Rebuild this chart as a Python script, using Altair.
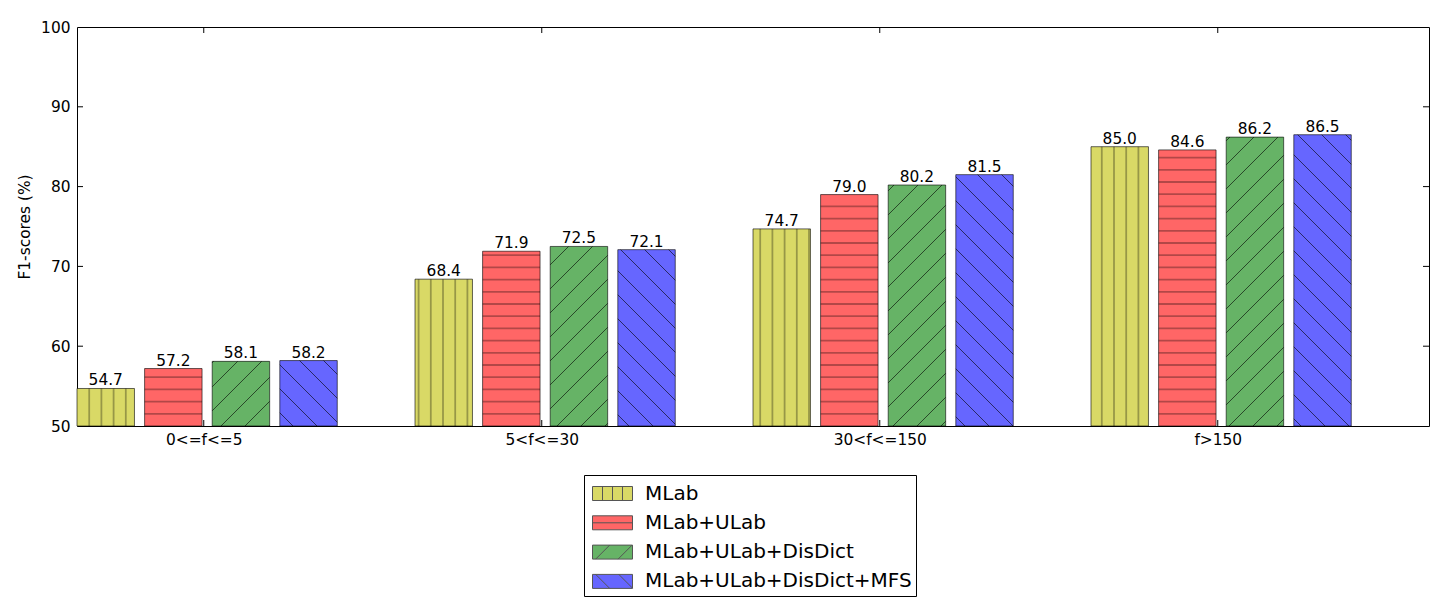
import altair as alt
import pandas as pd

# ---------------- data ----------------
categories = ["0<=f<=5", "5<f<=30", "30<f<=150", "f>150"]
series = ["MLab", "MLab+ULab", "MLab+ULab+DisDict", "MLab+ULab+DisDict+MFS"]
mlab = [54.7, 68.4, 74.7, 85.0]
mlab_ulab = [57.2, 71.9, 79.0, 84.6]
mlab_ulab_disdict = [58.1, 72.5, 80.2, 86.2]
mlab_ulab_disdict_mfs = [58.2, 72.1, 81.5, 86.5]
y_ticks = [50, 60, 70, 80, 90, 100]

# ---------------- style / layout ----------------
colors = ["#D9D966", "#FF6666", "#66B366", "#6666FF"]
W, H = 1352, 399
Y0, Y1 = 50, 100
X0, X1 = 0, 4
BAR_STEP, BAR_W = 0.2, 0.17
TICK_POS = 0.375
PX_X = W / (X1 - X0)
PX_Y = H / (Y1 - Y0)
FONT = "DejaVu Sans"
FS = 15.4
HATCH = 12.2   # px spacing of | and - hatches
DIAG = 24.0    # px spacing of / and \ hatches

values = [mlab, mlab_ulab, mlab_ulab_disdict, mlab_ulab_disdict_mfs]

rows = []
for g, cat in enumerate(categories):
    for s, name in enumerate(series):
        left = g + s * BAR_STEP
        rows.append(dict(category=cat, series=name, x=left, x2=left + BAR_W,
                         xm=left + BAR_W / 2, base=Y0, value=values[s][g], kind=s))
bars = pd.DataFrame(rows)

# hatch segments derived from the bars
segs = []
for r in rows:
    w = BAR_W * PX_X
    h = (r["value"] - Y0) * PX_Y
    lpx = r["x"] * PX_X
    lines = []
    if r["kind"] == 0:
        u = HATCH - (lpx % HATCH)
        while u < w - 1:
            lines.append((u, 0, u, h))
            u += HATCH
    elif r["kind"] == 1:
        v = HATCH
        while v < h - 1:
            lines.append((0, v, w, v))
            v += HATCH
    elif r["kind"] == 2:
        ph = lpx % DIAG
        for k in range(-10, 60):
            c = ph + k * DIAG
            u0, u1 = max(0, -c), min(w, h - c)
            if u1 - u0 > 0.5:
                lines.append((u0, u0 + c, u1, u1 + c))
    else:
        ph = (-lpx) % DIAG
        for k in range(-10, 60):
            c = ph + k * DIAG
            u0, u1 = max(0, c - h), min(w, c)
            if u1 - u0 > 0.5:
                lines.append((u0, c - u0, u1, c - u1))
    for (a, b, c2, d) in lines:
        segs.append(dict(series=r["series"], kind=r["kind"],
                         x=r["x"] + a / PX_X, y=Y0 + b / PX_Y,
                         x2=r["x"] + c2 / PX_X, y2=Y0 + d / PX_Y))
hatch = pd.DataFrame(segs)

xticks = pd.DataFrame({"t": [g + TICK_POS for g in range(len(categories))]})
yticks = pd.DataFrame({"t": y_ticks[1:-1]})
legend_df = pd.DataFrame({"series": series})

# legend symbols: 40x14 patch with hatch (unit = 14px, symbol side 28px)
rect = "M-1.4286,-0.5H1.4286V0.5H-1.4286Z"
shapes = [
    rect + " M-0.714,-0.5V0.5 M0,-0.5V0.5 M0.714,-0.5V0.5",
    rect + " M-1.4286,0L1.4286,0",
    rect + " M-1.2,0.5L-0.2,-0.5 M0.4,0.5L1.4,-0.5",
    rect + " M-1.2,-0.5L-0.2,0.5 M0.45,-0.5L1.4286,0.48",
]

xscale = alt.Scale(domain=[X0, X1], nice=False, zero=False)
yscale = alt.Scale(domain=[Y0, Y1], nice=False, zero=False)
fscale = alt.Scale(domain=series, range=colors)

label_expr = "[" + ",".join("'%s'" % c for c in categories) + "][floor(datum.value)]"

x_axis = alt.Axis(values=[g + TICK_POS for g in range(len(categories))], labelExpr=label_expr,
                  ticks=False, domain=False, grid=False, title=None, labelFont=FONT,
                  labelFontSize=FS, labelColor="black", labelPadding=6, labelFlush=False)
y_axis = alt.Axis(values=y_ticks, ticks=False, domain=False, grid=False, title="F1-scores (%)",
                  labelFont=FONT, labelFontSize=FS, labelColor="black", labelPadding=7,
                  titleFont=FONT, titleFontSize=FS, titleFontWeight="normal", titleColor="black",
                  titlePadding=8)

legend = alt.Legend(orient="none", legendX=507, legendY=448, title=None, direction="vertical",
                    padding=4, strokeColor="black", fillColor="white", symbolSize=784,
                    symbolOffset=10, labelOffset=18, labelFont=FONT, labelFontSize=20,
                    labelColor="black", rowPadding=4.3, symbolStrokeColor="#555",
                    symbolStrokeWidth=1, labelLimit=600, cornerRadius=0)

bar_layer = alt.Chart(bars).mark_rect(stroke="#000", strokeOpacity=0.6, strokeWidth=1).encode(
    x=alt.X("x:Q", scale=xscale, axis=x_axis),
    x2="x2:Q",
    y=alt.Y("value:Q", scale=yscale, axis=y_axis),
    y2="base:Q",
    fill=alt.Fill("series:N", scale=fscale, legend=legend),
)

hatch_straight = alt.Chart(hatch).transform_filter("datum.kind < 2").mark_rule(
    stroke="#000", strokeOpacity=0.3, strokeWidth=1.8).encode(
    x="x:Q", x2="x2:Q", y="y:Q", y2="y2:Q")
hatch_diag = alt.Chart(hatch).transform_filter("datum.kind >= 2").mark_rule(
    stroke="#000", strokeOpacity=0.6, strokeWidth=1).encode(
    x="x:Q", x2="x2:Q", y="y:Q", y2="y2:Q")

text_layer = alt.Chart(bars).mark_text(baseline="alphabetic", dy=-3, font=FONT, fontSize=FS,
                                       color="black").encode(
    x="xm:Q", y="value:Q", text=alt.Text("value:Q", format=".1f")
)

ytick_l = alt.Chart(yticks).mark_rule(color="black", strokeWidth=1).encode(
    y="t:Q", x=alt.value(0), x2=alt.value(6))
ytick_r = alt.Chart(yticks).mark_rule(color="black", strokeWidth=1).encode(
    y="t:Q", x=alt.value(W - 6), x2=alt.value(W))
xtick_b = alt.Chart(xticks).mark_rule(color="black", strokeWidth=1).encode(
    x="t:Q", y=alt.value(H - 6), y2=alt.value(H))
xtick_t = alt.Chart(xticks).mark_rule(color="black", strokeWidth=1).encode(
    x="t:Q", y=alt.value(0), y2=alt.value(6))

legend_layer = alt.Chart(legend_df).mark_point(filled=True, opacity=1, stroke="#555",
                                               strokeWidth=1, size=784, clip=True).encode(
    x=alt.value(-2000), y=alt.value(-2000),
    fill=alt.Fill("series:N", scale=fscale, legend=legend),
    shape=alt.Shape("series:N", scale=alt.Scale(domain=series, range=shapes), legend=legend),
)

chart = alt.layer(bar_layer, hatch_straight, hatch_diag, text_layer, ytick_l, ytick_r,
                  xtick_b, xtick_t, legend_layer).properties(
    width=W, height=H,
    background="white",
    autosize=alt.AutoSizeParams(type="none"),
    padding={"left": 69, "top": 19, "right": 4, "bottom": 180},
).configure_view(stroke="black", strokeWidth=1, fill="white")

chart.save("out.html", embed_options={"renderer": "svg", "actions": False})
